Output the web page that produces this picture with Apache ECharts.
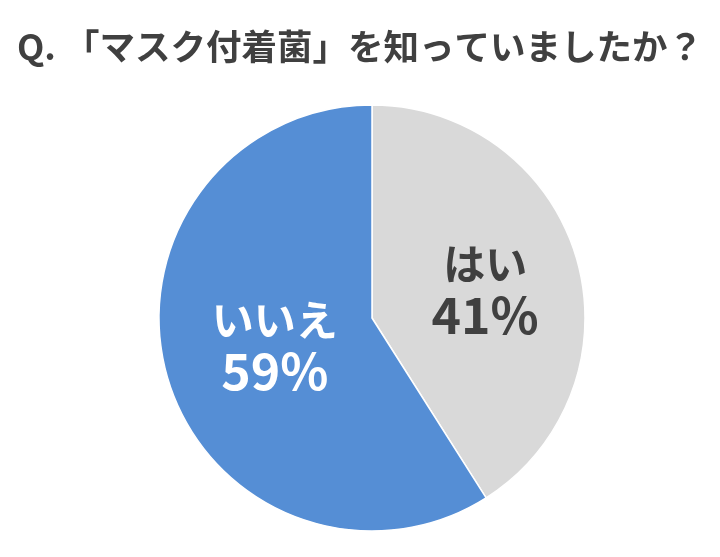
<!DOCTYPE html>
<html>
<head>
<meta charset="utf-8">
<script src="https://cdn.jsdelivr.net/npm/echarts@6/dist/echarts.min.js"></script>
<style>
html, body { margin: 0; padding: 0; background: #fff; }
#pie { width: 720px; height: 557px; }
</style>
</head>
<body>
<div id="pie"></div>
<script>
// data
const answerNames = ['はい', 'いいえ'];
const answerValues = [41, 59];
const sliceColors = ['#d9d9d9', '#558ed5'];
const labelColors = ['#404040', '#ffffff'];
const labelShift = [[8, 3], [8, -3]];

const jpFont = '"Noto Sans CJK JP", "Noto Sans", sans-serif';

var myChartPie = echarts.init(document.getElementById('pie'));

var optionPie = {
    backgroundColor: '#ffffff',
    animation: false,
    title: {
        text: 'Q. 「マスク付着菌」を知っていましたか？',
        left: 'center',
        top: 24,
        textStyle: {
            fontFamily: jpFont,
            fontSize: 35.5,
            fontWeight: 'bold',
            color: '#404040'
        }
    },
    series: [
        {
            type: 'pie',
            center: [372, 318],
            radius: [0, 213],
            startAngle: 90,
            clockwise: true,
            itemStyle: {
                borderColor: '#ffffff',
                borderWidth: 1.5
            },
            labelLine: { show: false },
            data: answerNames.map((name, i) => ({
                name: name,
                value: answerValues[i],
                itemStyle: { color: sliceColors[i] },
                label: {
                    show: true,
                    position: 'inside',
                    offset: labelShift[i],
                    formatter: '{a|{b}}\n{b|{c}%}',
                    rich: {
                        a: {
                            fontFamily: jpFont,
                            fontSize: 42,
                            fontWeight: 'bold',
                            color: labelColors[i],
                            lineHeight: 50
                        },
                        b: {
                            fontFamily: jpFont,
                            fontSize: 50,
                            fontWeight: 'bold',
                            color: labelColors[i],
                            lineHeight: 52
                        }
                    }
                }
            }))
        }
    ]
};

myChartPie.setOption(optionPie);
</script>
</body>
</html>
